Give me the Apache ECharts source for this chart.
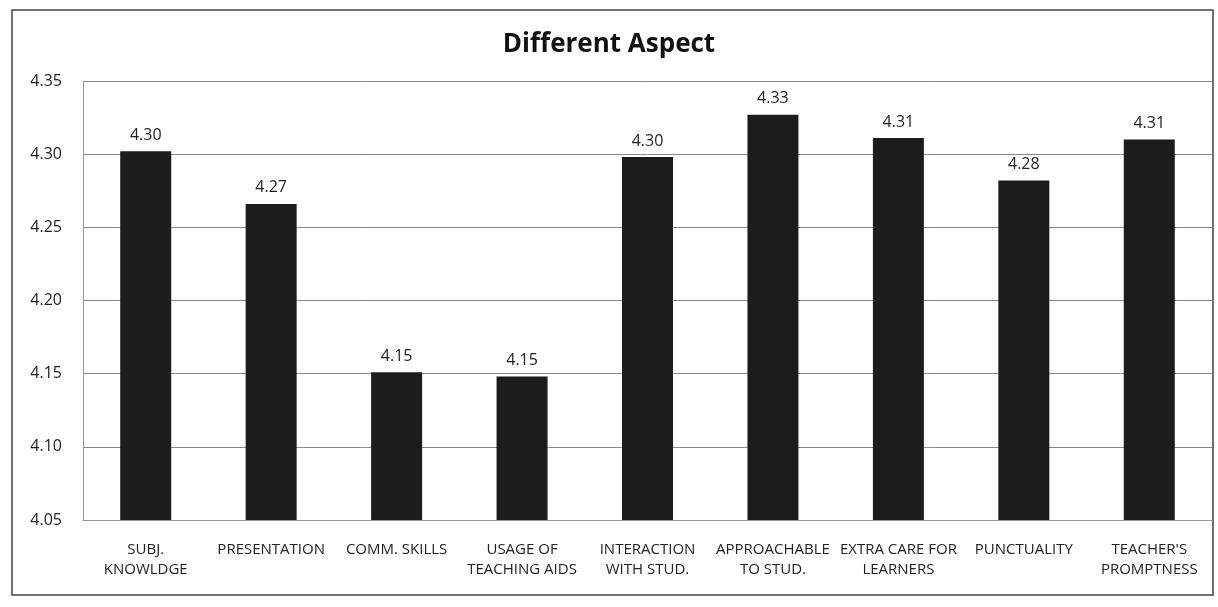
<!DOCTYPE html>
<html>
<head>
<meta charset="utf-8">
<script src="https://cdn.jsdelivr.net/npm/echarts@6/dist/echarts.min.js"></script>
<style>
html,body{margin:0;padding:0;background:#fff;}
#chart{width:1218px;height:607px;}
</style>
</head>
<body>
<div id="chart"></div>
<script>
const categories = ["SUBJ.\nKNOWLDGE", "PRESENTATION", "COMM. SKILLS", "USAGE OF\nTEACHING AIDS", "INTERACTION\nWITH STUD.", "APPROACHABLE\nTO STUD.", "EXTRA CARE FOR\nLEARNERS", "PUNCTUALITY", "TEACHER'S\nPROMPTNESS"];
const values = [4.302, 4.266, 4.151, 4.148, 4.298, 4.327, 4.311, 4.282, 4.310];
const yTicks = [4.05, 4.10, 4.15, 4.20, 4.25, 4.30, 4.35];
const titleText = "Different Aspect";

const chart = echarts.init(document.getElementById('chart'));
const fontFam = "'Open Sans', 'Noto Sans', sans-serif";
chart.setOption({
  backgroundColor: '#fff',
  animation: false,
  title: {
    text: titleText,
    left: 'center',
    top: 27,
    textStyle: { fontFamily: fontFam, fontWeight: 'bold', fontSize: 26, color: '#111' }
  },
  graphic: [{
    type: 'rect',
    shape: { x: 12, y: 10, width: 1201, height: 585 },
    style: { fill: 'none', stroke: '#444', lineWidth: 1.5 },
    silent: true
  }],
  grid: { left: 83, right: 6, top: 81, bottom: 87 },
  xAxis: {
    type: 'category',
    data: categories,
    axisTick: { show: false },
    axisLine: { show: true, lineStyle: { color: '#999', width: 1 } },
    axisLabel: { interval: 0, fontFamily: fontFam, fontSize: 15, color: '#222', margin: 20, lineHeight: 20 }
  },
  yAxis: {
    type: 'value',
    min: yTicks[0],
    max: yTicks[yTicks.length - 1],
    interval: 0.05,
    axisLine: { show: true, lineStyle: { color: '#999', width: 1 } },
    axisTick: { show: false },
    splitLine: { show: true, lineStyle: { color: '#8a8a8a', width: 1 } },
    axisLabel: { fontFamily: fontFam, fontSize: 16, color: '#222', margin: 21, formatter: v => v.toFixed(2) }
  },
  series: [{
    type: 'bar',
    data: values,
    barWidth: 51,
    itemStyle: { color: '#1e1b1f' },
    label: {
      show: true, position: 'top', distance: 8,
      fontFamily: fontFam, fontSize: 16, color: '#222',
      formatter: p => p.value.toFixed(2)
    }
  }]
});
</script>
</body>
</html>
